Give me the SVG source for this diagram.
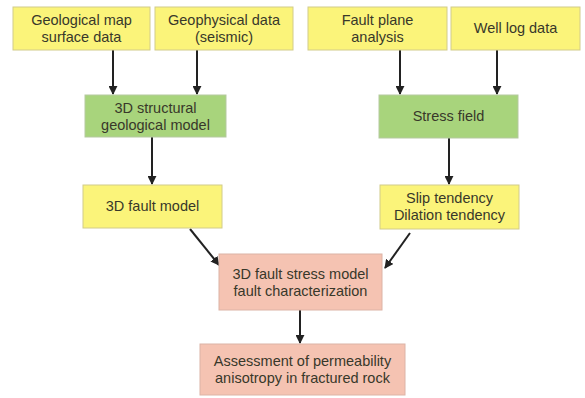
<svg xmlns="http://www.w3.org/2000/svg" width="585" height="398" viewBox="0 0 585 398">
<style>
.y{fill:#fbf47a;stroke:#d2cc8a;stroke-width:1}
.g{fill:#a8d47c;stroke:#b5c9a0;stroke-width:1}
.p{fill:#f5c3b2;stroke:#dcb3a6;stroke-width:1}
text{font-family:"Liberation Sans",Arial,sans-serif;font-size:14.5px;fill:#38382a;text-anchor:middle}
.c line{stroke:#222;stroke-width:2}
</style>
<defs>
<marker id="ah" viewBox="0 0 10 10" refX="9" refY="5" markerWidth="4.5" markerHeight="4.5" orient="auto">
<path d="M0,0 L10,5 L0,10 z" fill="#222"/>
</marker>
</defs>
<rect x="0" y="0" width="585" height="398" fill="#fff"/>
<g class="c">
<line x1="113" y1="50" x2="113" y2="94" marker-end="url(#ah)"/>
<line x1="197" y1="50" x2="197" y2="94" marker-end="url(#ah)"/>
<line x1="400" y1="50" x2="400" y2="94" marker-end="url(#ah)"/>
<line x1="497" y1="50" x2="497" y2="94" marker-end="url(#ah)"/>
<line x1="152" y1="137" x2="152" y2="184" marker-end="url(#ah)"/>
<line x1="449" y1="138" x2="449" y2="184" marker-end="url(#ah)"/>
<line x1="190" y1="229" x2="219" y2="265" marker-end="url(#ah)"/>
<line x1="410" y1="233" x2="385" y2="268" marker-end="url(#ah)"/>
<line x1="300" y1="310" x2="300" y2="343" marker-end="url(#ah)"/>
</g>
<g id="n1"><rect class="y" x="13" y="7" width="137" height="43"/><text x="81.5" y="25">Geological map</text><text x="81.5" y="42">surface data</text></g>
<g id="n2"><rect class="y" x="155" y="7" width="138" height="43"/><text x="224" y="25">Geophysical data</text><text x="224" y="42">(seismic)</text></g>
<g id="n3"><rect class="y" x="308" y="7" width="139" height="43"/><text x="377.5" y="25">Fault plane</text><text x="377.5" y="42">analysis</text></g>
<g id="n4"><rect class="y" x="451" y="7" width="129" height="43"/><text x="515.5" y="33">Well log data</text></g>
<g id="n5"><rect class="g" x="85" y="95" width="141" height="42"/><text x="155.5" y="113">3D structural</text><text x="155.5" y="130">geological model</text></g>
<g id="n6"><rect class="g" x="379" y="95" width="139" height="43"/><text x="448.5" y="121">Stress field</text></g>
<g id="n7"><rect class="y" x="83" y="185" width="139" height="43"/><text x="152.5" y="211">3D fault model</text></g>
<g id="n8"><rect class="y" x="380" y="185" width="139" height="44"/><text x="449.5" y="203">Slip tendency</text><text x="449.5" y="220">Dilation tendency</text></g>
<g id="n9"><rect class="p" x="219" y="254" width="163" height="56"/><text x="300.5" y="279">3D fault stress model</text><text x="300.5" y="296">fault characterization</text></g>
<g id="n10"><rect class="p" x="200" y="344" width="205" height="51"/><text x="302.5" y="366">Assessment of permeability</text><text x="302.5" y="383">anisotropy in fractured rock</text></g>
</svg>
